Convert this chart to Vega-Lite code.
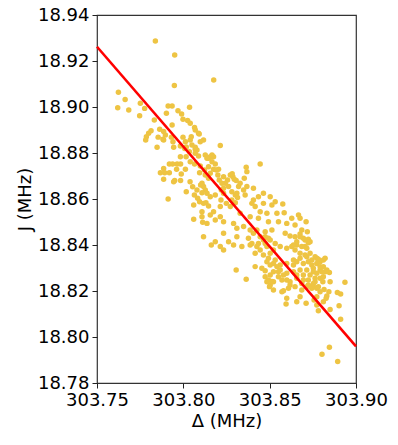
{
"$schema": "https://vega.github.io/schema/vega-lite/v6.json",
"width": 259, "height": 368,
"autosize": {"type": "none"},
"padding": {"left": 97, "top": 15, "right": 42, "bottom": 62},
"background": "white",
"config": {
 "font": "DejaVu Sans",
 "view": {"stroke": "#333333", "strokeWidth": 1.2},
 "axis": {"grid": false, "domain": false, "ticks": true, "tickColor": "#222222", "tickSize": 5, "tickWidth": 1,
  "labelColor": "black", "titleColor": "black", "labelFontSize": 18, "titleFontSize": 18, "labelFlush": false,
  "labelFont": "DejaVu Sans", "titleFont": "DejaVu Sans", "titleFontWeight": "normal", "labelPadding": 3}
},
"layer": [
 {
  "data": {"values": [
{"delta":303.7838,"J":18.9287},{"delta":303.7950,"J":18.9226},{"delta":303.7948,"J":18.9093},{"delta":303.8176,"J":18.9117},
{"delta":303.7624,"J":18.9064},{"delta":303.7663,"J":18.9033},{"delta":303.7620,"J":18.8997},{"delta":303.7684,"J":18.8987},
{"delta":303.7751,"J":18.9016},{"delta":303.7776,"J":18.8994},{"delta":303.7747,"J":18.8962},{"delta":303.7832,"J":18.8943},
{"delta":303.7912,"J":18.9004},{"delta":303.7935,"J":18.9004},{"delta":303.7902,"J":18.8973},{"delta":303.7969,"J":18.8984},
{"delta":303.7990,"J":18.8970},{"delta":303.8036,"J":18.8999},{"delta":303.7935,"J":18.8922},{"delta":303.7998,"J":18.8947},
{"delta":303.8025,"J":18.8941},{"delta":303.8040,"J":18.8929},{"delta":303.8065,"J":18.8911},{"delta":303.8088,"J":18.8886},
{"delta":303.7863,"J":18.8903},{"delta":303.7886,"J":18.8893},{"delta":303.7896,"J":18.8878},{"delta":303.7813,"J":18.8897},
{"delta":303.7799,"J":18.8886},{"delta":303.7786,"J":18.8871},{"delta":303.7782,"J":18.8857},{"delta":303.7854,"J":18.8869},
{"delta":303.7886,"J":18.8857},{"delta":303.7931,"J":18.8869},{"delta":303.7940,"J":18.8849},{"delta":303.7848,"J":18.8825},
{"delta":303.7998,"J":18.8869},{"delta":303.8012,"J":18.8849},{"delta":303.8040,"J":18.8857},{"delta":303.8050,"J":18.8835},
{"delta":303.7944,"J":18.8825},{"delta":303.7983,"J":18.8830},{"delta":303.8069,"J":18.8825},{"delta":303.8017,"J":18.8826},
{"delta":303.7919,"J":18.8752},{"delta":303.7938,"J":18.8752},{"delta":303.7964,"J":18.8752},{"delta":303.7984,"J":18.8752},
{"delta":303.7886,"J":18.8733},{"delta":303.7867,"J":18.8714},{"delta":303.7892,"J":18.8714},{"delta":303.7919,"J":18.8714},
{"delta":303.7961,"J":18.8729},{"delta":303.7988,"J":18.8709},{"delta":303.7950,"J":18.8680},{"delta":303.7984,"J":18.8680},
{"delta":303.8012,"J":18.8729},{"delta":303.8017,"J":18.8632},{"delta":303.7912,"J":18.8600},{"delta":303.8039,"J":18.8675},
{"delta":303.8054,"J":18.8653},{"delta":303.8079,"J":18.8639},{"delta":303.8100,"J":18.8661},{"delta":303.8127,"J":18.8639},
{"delta":303.8065,"J":18.8752},{"delta":303.8098,"J":18.8743},{"delta":303.8040,"J":18.8762},{"delta":303.8016,"J":18.8784},
{"delta":303.7983,"J":18.8784},{"delta":303.8035,"J":18.8806},{"delta":303.8008,"J":18.8820},{"delta":303.8069,"J":18.8816},
{"delta":303.8214,"J":18.8833},{"delta":303.8156,"J":18.8784},{"delta":303.8175,"J":18.8784},{"delta":303.8166,"J":18.8762},
{"delta":303.8185,"J":18.8752},{"delta":303.8146,"J":18.8740},{"delta":303.8175,"J":18.8729},{"delta":303.8204,"J":18.8729},
{"delta":303.8200,"J":18.8704},{"delta":303.8208,"J":18.8683},{"delta":303.8224,"J":18.8668},{"delta":303.8233,"J":18.8697},
{"delta":303.8117,"J":18.8857},{"delta":303.8092,"J":18.8883},{"delta":303.8069,"J":18.8900},{"delta":303.8098,"J":18.8849},
{"delta":303.8094,"J":18.8714},{"delta":303.8123,"J":18.8726},{"delta":303.8143,"J":18.8700},{"delta":303.8108,"J":18.8627},
{"delta":303.8064,"J":18.8617},{"delta":303.8083,"J":18.8603},{"delta":303.8156,"J":18.8610},{"delta":303.8185,"J":18.8617},
{"delta":303.8220,"J":18.8639},{"delta":303.8233,"J":18.8625},{"delta":303.8046,"J":18.8871},{"delta":303.8079,"J":18.8813},
{"delta":303.8069,"J":18.8799},{"delta":303.8088,"J":18.8787},{"delta":303.8127,"J":18.8791},{"delta":303.8146,"J":18.8777},
{"delta":303.7882,"J":18.8860},{"delta":303.8272,"J":18.8704},{"delta":303.8287,"J":18.8697},{"delta":303.8256,"J":18.8683},
{"delta":303.8306,"J":18.8680},{"delta":303.8320,"J":18.8654},{"delta":303.8262,"J":18.8654},{"delta":303.8233,"J":18.8647},
{"delta":303.8281,"J":18.8632},{"delta":303.8301,"J":18.8617},{"delta":303.8314,"J":18.8607},{"delta":303.8218,"J":18.8596},
{"delta":303.8249,"J":18.8581},{"delta":303.8281,"J":18.8596},{"delta":303.8301,"J":18.8584},{"delta":303.7886,"J":18.8686},
{"delta":303.7944,"J":18.8675},{"delta":303.8094,"J":18.8588},{"delta":303.8060,"J":18.8574},{"delta":303.8117,"J":18.8654},
{"delta":303.8310,"J":18.8625},{"delta":303.8349,"J":18.8639},{"delta":303.8358,"J":18.8617},{"delta":303.8406,"J":18.8596},
{"delta":303.8464,"J":18.8581},{"delta":303.8513,"J":18.8574},{"delta":303.8532,"J":18.8588},{"delta":303.8416,"J":18.8567},
{"delta":303.8445,"J":18.8545},{"delta":303.8484,"J":18.8538},{"delta":303.8542,"J":18.8538},{"delta":303.8551,"J":18.8501},
{"delta":303.8493,"J":18.8501},{"delta":303.8435,"J":18.8516},{"delta":303.8387,"J":18.8523},{"delta":303.8329,"J":18.8538},
{"delta":303.8272,"J":18.8567},{"delta":303.8214,"J":18.8567},{"delta":303.8175,"J":18.8545},{"delta":303.8156,"J":18.8530},
{"delta":303.8214,"J":18.8523},{"delta":303.8185,"J":18.8509},{"delta":303.8233,"J":18.8501},{"delta":303.8291,"J":18.8494},
{"delta":303.8310,"J":18.8473},{"delta":303.8349,"J":18.8480},{"delta":303.8387,"J":18.8465},{"delta":303.8426,"J":18.8465},
{"delta":303.8474,"J":18.8458},{"delta":303.8513,"J":18.8465},{"delta":303.8445,"J":18.8436},{"delta":303.8377,"J":18.8429},
{"delta":303.8310,"J":18.8436},{"delta":303.8262,"J":18.8414},{"delta":303.8233,"J":18.8451},{"delta":303.8185,"J":18.8414},
{"delta":303.8117,"J":18.8436},{"delta":303.8137,"J":18.8494},{"delta":303.8339,"J":18.8393},{"delta":303.8387,"J":18.8400},
{"delta":303.8291,"J":18.8400},{"delta":303.8426,"J":18.8393},{"delta":303.8474,"J":18.8407},{"delta":303.8214,"J":18.8393},
{"delta":303.8131,"J":18.8584},{"delta":303.8146,"J":18.8570},{"delta":303.8060,"J":18.8512},{"delta":303.8108,"J":18.8523},
{"delta":303.8112,"J":18.8499},{"delta":303.8162,"J":18.8400},{"delta":303.8233,"J":18.8378},{"delta":303.8445,"J":18.8752},
{"delta":303.8364,"J":18.8738},{"delta":303.8368,"J":18.8719},{"delta":303.8283,"J":18.8710},{"delta":303.8295,"J":18.8686},
{"delta":303.8353,"J":18.8690},{"delta":303.8137,"J":18.8777},{"delta":303.8166,"J":18.8791},{"delta":303.8191,"J":18.8726},
{"delta":303.8156,"J":18.8712},{"delta":303.8127,"J":18.8704},{"delta":303.8146,"J":18.8690},{"delta":303.8108,"J":18.8668},
{"delta":303.8137,"J":18.8625},{"delta":303.8117,"J":18.8581},{"delta":303.8108,"J":18.8545},{"delta":303.8243,"J":18.8668},
{"delta":303.8329,"J":18.8668},{"delta":303.8368,"J":18.8654},{"delta":303.8406,"J":18.8647},{"delta":303.8464,"J":18.8625},
{"delta":303.8435,"J":18.8610},{"delta":303.8503,"J":18.8610},{"delta":303.8397,"J":18.8581},{"delta":303.8576,"J":18.8578},
{"delta":303.8667,"J":18.8530},{"delta":303.8718,"J":18.8458},{"delta":303.8686,"J":18.8465},{"delta":303.8676,"J":18.8448},
{"delta":303.8724,"J":18.8425},{"delta":303.8695,"J":18.8429},{"delta":303.8647,"J":18.8436},{"delta":303.8618,"J":18.8439},
{"delta":303.8590,"J":18.8451},{"delta":303.8724,"J":18.8410},{"delta":303.8705,"J":18.8393},{"delta":303.8657,"J":18.8400},
{"delta":303.8628,"J":18.8393},{"delta":303.8599,"J":18.8386},{"delta":303.8561,"J":18.8393},{"delta":303.8532,"J":18.8407},
{"delta":303.8503,"J":18.8422},{"delta":303.8474,"J":18.8436},{"delta":303.8821,"J":18.8342},{"delta":303.8773,"J":18.8342},
{"delta":303.8792,"J":18.8327},{"delta":303.8744,"J":18.8335},{"delta":303.8715,"J":18.8349},{"delta":303.8676,"J":18.8342},
{"delta":303.8638,"J":18.8335},{"delta":303.8599,"J":18.8320},{"delta":303.8561,"J":18.8313},{"delta":303.8522,"J":18.8320},
{"delta":303.8484,"J":18.8327},{"delta":303.8792,"J":18.8291},{"delta":303.8753,"J":18.8284},{"delta":303.8715,"J":18.8291},
{"delta":303.8676,"J":18.8291},{"delta":303.8638,"J":18.8284},{"delta":303.8599,"J":18.8277},{"delta":303.8551,"J":18.8284},
{"delta":303.8503,"J":18.8270},{"delta":303.8474,"J":18.8288},{"delta":303.8792,"J":18.8255},{"delta":303.8763,"J":18.8255},
{"delta":303.8724,"J":18.8248},{"delta":303.8695,"J":18.8248},{"delta":303.8657,"J":18.8255},{"delta":303.8618,"J":18.8240},
{"delta":303.8571,"J":18.8248},{"delta":303.8522,"J":18.8240},{"delta":303.8503,"J":18.8226},{"delta":303.8753,"J":18.8219},
{"delta":303.8715,"J":18.8219},{"delta":303.8686,"J":18.8204},{"delta":303.8647,"J":18.8219},{"delta":303.8609,"J":18.8212},
{"delta":303.8571,"J":18.8197},{"delta":303.8522,"J":18.8204},{"delta":303.8676,"J":18.8175},{"delta":303.8773,"J":18.8175},
{"delta":303.8599,"J":18.8168},{"delta":303.8657,"J":18.8153},{"delta":303.8306,"J":18.8291},{"delta":303.8364,"J":18.8251},
{"delta":303.8416,"J":18.8306},{"delta":303.8474,"J":18.8262},{"delta":303.8484,"J":18.8240},{"delta":303.8499,"J":18.8219},
{"delta":303.8584,"J":18.8540},{"delta":303.8628,"J":18.8516},{"delta":303.8599,"J":18.8494},{"delta":303.8647,"J":18.8487},
{"delta":303.8676,"J":18.8516},{"delta":303.8711,"J":18.8501},{"delta":303.8676,"J":18.8436},{"delta":303.8705,"J":18.8422},
{"delta":303.8734,"J":18.8414},{"delta":303.8657,"J":18.8414},{"delta":303.8638,"J":18.8400},{"delta":303.8686,"J":18.8393},
{"delta":303.8715,"J":18.8386},{"delta":303.8647,"J":18.8378},{"delta":303.8676,"J":18.8364},{"delta":303.8705,"J":18.8357},
{"delta":303.8734,"J":18.8364},{"delta":303.8763,"J":18.8349},{"delta":303.8782,"J":18.8338},{"delta":303.8811,"J":18.8335},
{"delta":303.8724,"J":18.8327},{"delta":303.8695,"J":18.8320},{"delta":303.8657,"J":18.8327},{"delta":303.8638,"J":18.8313},
{"delta":303.8744,"J":18.8313},{"delta":303.8773,"J":18.8320},{"delta":303.8792,"J":18.8306},{"delta":303.8753,"J":18.8299},
{"delta":303.8811,"J":18.8306},{"delta":303.8846,"J":18.8280},{"delta":303.8831,"J":18.8291},{"delta":303.8802,"J":18.8284},
{"delta":303.8773,"J":18.8277},{"delta":303.8734,"J":18.8270},{"delta":303.8695,"J":18.8270},{"delta":303.8657,"J":18.8270},
{"delta":303.8811,"J":18.8262},{"delta":303.8850,"J":18.8240},{"delta":303.8808,"J":18.8240},{"delta":303.8763,"J":18.8240},
{"delta":303.8936,"J":18.8238},{"delta":303.8724,"J":18.8226},{"delta":303.8686,"J":18.8233},{"delta":303.8782,"J":18.8219},
{"delta":303.8744,"J":18.8212},{"delta":303.8406,"J":18.8451},{"delta":303.8397,"J":18.8407},{"delta":303.8435,"J":18.8407},
{"delta":303.8464,"J":18.8422},{"delta":303.8493,"J":18.8429},{"delta":303.8484,"J":18.8393},{"delta":303.8445,"J":18.8378},
{"delta":303.8416,"J":18.8364},{"delta":303.8464,"J":18.8357},{"delta":303.8503,"J":18.8364},{"delta":303.8522,"J":18.8378},
{"delta":303.8493,"J":18.8342},{"delta":303.8532,"J":18.8335},{"delta":303.8503,"J":18.8313},{"delta":303.8542,"J":18.8306},
{"delta":303.8522,"J":18.8284},{"delta":303.8561,"J":18.8291},{"delta":303.8551,"J":18.8262},{"delta":303.8580,"J":18.8270},
{"delta":303.8599,"J":18.8248},{"delta":303.8618,"J":18.8226},{"delta":303.8455,"J":18.8299},{"delta":303.8493,"J":18.8248},
{"delta":303.8513,"J":18.8241},{"delta":303.8580,"J":18.8201},{"delta":303.8595,"J":18.8143},{"delta":303.8711,"J":18.8147},
{"delta":303.8757,"J":18.8161},{"delta":303.8782,"J":18.8114},{"delta":303.8811,"J":18.8153},{"delta":303.8892,"J":18.8193},
{"delta":303.8911,"J":18.8187},{"delta":303.8850,"J":18.8120},{"delta":303.8902,"J":18.8136},{"delta":303.8911,"J":18.8077},
{"delta":303.8846,"J":18.7955},{"delta":303.8803,"J":18.7925},{"delta":303.8894,"J":18.7893},{"delta":303.8753,"J":18.8233},
{"delta":303.8773,"J":18.8212},{"delta":303.8792,"J":18.8197},{"delta":303.8815,"J":18.8207},{"delta":303.8831,"J":18.8178},
{"delta":303.8827,"J":18.8168},{"delta":303.8843,"J":18.8197},{"delta":303.8823,"J":18.8284},{"delta":303.8773,"J":18.8139}
  ]},
  "mark": {"type": "circle", "size": 30, "color": "#EEC443", "opacity": 1},
  "encoding": {
   "x": {"field": "delta", "type": "quantitative",
    "scale": {"domain": [303.75, 303.9], "nice": false, "zero": false},
    "axis": {"values": [303.75, 303.8, 303.85, 303.9], "format": ".2f", "title": "Δ (MHz)", "titlePadding": 3}},
   "y": {"field": "J", "type": "quantitative",
    "scale": {"domain": [18.78, 18.94], "nice": false, "zero": false},
    "axis": {"values": [18.78, 18.8, 18.82, 18.84, 18.86, 18.88, 18.9, 18.92, 18.94], "format": ".2f", "title": "J (MHz)", "titlePadding": 3}}
  }
 },
 {
  "data": {"values": [{"delta": 303.75, "J": 18.9262}, {"delta": 303.9, "J": 18.7959}]},
  "mark": {"type": "line", "color": "#FF0000", "strokeWidth": 2.6},
  "encoding": {
   "x": {"field": "delta", "type": "quantitative"},
   "y": {"field": "J", "type": "quantitative"}
  }
 }
]
}
